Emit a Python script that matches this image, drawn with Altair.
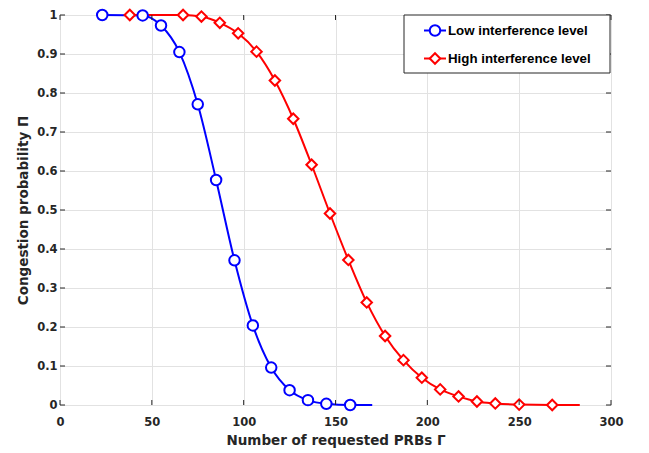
import altair as alt
import pandas as pd

# ---- data ----
low_x = [23, 45, 55, 65, 75, 85, 95, 105, 115, 125, 135, 145, 158]
low_y = [1.0, 0.999, 0.973, 0.905, 0.771, 0.577, 0.371, 0.204, 0.096, 0.038, 0.0125, 0.003, 0.0]
low_end_x = 170
low_end_y = 0.0

high_x = [38, 67, 77, 87, 97, 107, 117, 127, 137, 147, 157, 167, 177, 187, 197, 207, 217, 227, 237, 250, 268]
high_y = [1.0, 1.0, 0.996, 0.980, 0.953, 0.906, 0.832, 0.734, 0.616, 0.491, 0.372, 0.263, 0.177,
          0.115, 0.070, 0.040, 0.022, 0.009, 0.004, 0.001, 0.0]
high_end_x = 283
high_end_y = 0.0

x_ticks = [0, 50, 100, 150, 200, 250, 300]
y_ticks = [0, 0.1, 0.2, 0.3, 0.4, 0.5, 0.6, 0.7, 0.8, 0.9, 1.0]

legend_labels = ["Low interference level", "High interference level"]
series_colors = ["#0000ff", "#ff0000"]
series_shapes = ["circle", "diamond"]

x_title = "Number of requested PRBs Γ"
y_title = "Congestion probability Π"

# ---- layout ----
W, H = 551, 390
AX = "#262626"
GRID = "#e2e2e2"
FONT = "DejaVu Sans"

rows = []
for xv, yv in zip(low_x, low_y):
    rows.append({"series": legend_labels[0], "x": xv, "y": yv, "marker": True})
rows.append({"series": legend_labels[0], "x": low_end_x, "y": low_end_y, "marker": False})
for xv, yv in zip(high_x, high_y):
    rows.append({"series": legend_labels[1], "x": xv, "y": yv, "marker": True})
rows.append({"series": legend_labels[1], "x": high_end_x, "y": high_end_y, "marker": False})
df = pd.DataFrame(rows)

xs = alt.Scale(domain=[0, 300], nice=False, zero=False)
ys = alt.Scale(domain=[0, 1], nice=False, zero=False)
cscale = alt.Scale(domain=legend_labels, range=series_colors)
sscale = alt.Scale(domain=legend_labels, range=series_shapes)

x_axis = alt.Axis(values=x_ticks, title=x_title, grid=True, gridColor=GRID, gridWidth=1,
                  ticks=False, tickSize=0, domain=False,
                  labelFont=FONT, labelFontWeight="bold", labelFontSize=11.5, labelColor=AX,
                  labelPadding=11, labelFlush=False,
                  titleFont=FONT, titleFontWeight="bold", titleFontSize=13.5, titleColor=AX,
                  titleX=W / 2, titleY=39, titleBaseline="alphabetic", titleAlign="center")
y_axis = alt.Axis(values=y_ticks, title=y_title, grid=True, gridColor=GRID, gridWidth=1,
                  ticks=False, tickSize=0, domain=False, format="~g",
                  labelFont=FONT, labelFontWeight="bold", labelFontSize=11.5, labelColor=AX,
                  labelPadding=3, labelFlush=False,
                  titleFont=FONT, titleFontWeight="bold", titleFontSize=13.5, titleColor=AX,
                  titleX=-33, titleY=H / 2, titleAngle=270, titleBaseline="alphabetic",
                  titleAlign="center")

X = alt.X("x:Q", scale=xs, axis=x_axis, title=x_title)
Y = alt.Y("y:Q", scale=ys, axis=y_axis, title=y_title)

base = alt.Chart(df)
lines = base.mark_line(strokeWidth=2, interpolate="monotone").encode(
    x=X, y=Y,
    stroke=alt.Stroke("series:N", scale=cscale, legend=None),
    detail="series:N",
)
points = base.transform_filter("datum.marker").mark_point(strokeWidth=2, size=110, opacity=1).encode(
    x=X, y=Y,
    stroke=alt.Stroke("series:N", scale=cscale, legend=None),
    shape=alt.Shape("series:N", scale=sscale, legend=None),
    fill=alt.value("white"),
)

# inward ticks on all four sides
xt = alt.Chart(pd.DataFrame({"x": x_ticks}))
yt = alt.Chart(pd.DataFrame({"y": y_ticks}))
tick_b = xt.mark_rule(color=AX, strokeWidth=1).encode(x=X, y=alt.value(H), y2=alt.value(H - 5))
tick_t = xt.mark_rule(color=AX, strokeWidth=1).encode(x=X, y=alt.value(0), y2=alt.value(5))
tick_l = yt.mark_rule(color=AX, strokeWidth=1).encode(y=Y, x=alt.value(0), x2=alt.value(5))
tick_r = yt.mark_rule(color=AX, strokeWidth=1).encode(y=Y, x=alt.value(W), x2=alt.value(W - 5))

# legend box
one = alt.Chart(pd.DataFrame({"k": [0]}))
leg_box = one.mark_rect(fill="white", stroke=AX, strokeWidth=1).encode(
    x=alt.value(344), x2=alt.value(550), y=alt.value(0), y2=alt.value(58))

leg_layers = [leg_box]
leg_rows_y = [15.5, 43.5]
for i, lab in enumerate(legend_labels):
    ly = leg_rows_y[i]
    ld = alt.Chart(pd.DataFrame({"label": [lab]}))
    leg_layers.append(ld.mark_rule(color=series_colors[i], strokeWidth=2).encode(
        x=alt.value(364), x2=alt.value(386), y=alt.value(ly)))
    leg_layers.append(ld.mark_point(shape=series_shapes[i], size=110, strokeWidth=2,
                                    stroke=series_colors[i], fill="white", opacity=1).encode(
        x=alt.value(375), y=alt.value(ly)))
    leg_layers.append(ld.mark_text(align="left", baseline="middle", font="Liberation Sans",
                                   fontWeight="bold", fontSize=13.3, color="#000000").encode(
        x=alt.value(388), y=alt.value(ly), text="label:N"))

chart = alt.layer(lines, points, tick_b, tick_t, tick_l, tick_r, *leg_layers).properties(
    width=W, height=H,
    autosize=alt.AutoSizeParams(type="none"),
    padding={"left": 52, "top": 7, "right": 30, "bottom": 50},
).configure_view(stroke=AX, strokeWidth=1).configure(background="white")

chart.save("out.html", embed_options={"renderer": "svg", "actions": False})
